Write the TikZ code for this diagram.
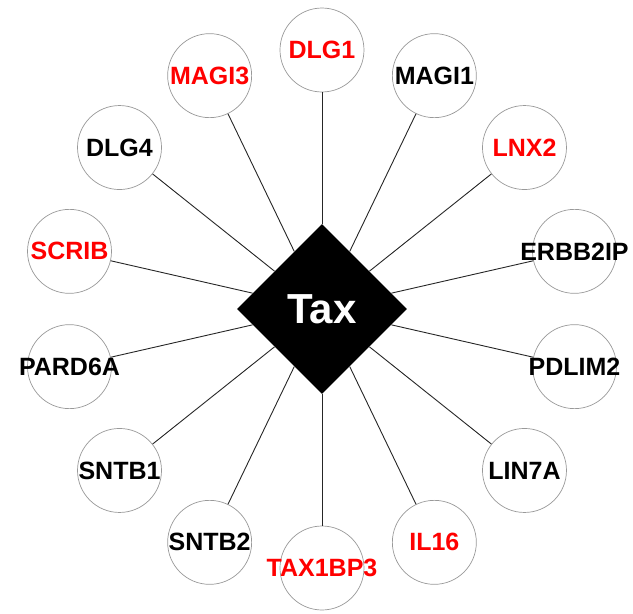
\documentclass[tikz,border=0pt]{standalone}
\usepackage{fontspec}
\setmainfont{Liberation Sans}
\usetikzlibrary{shapes.geometric}

% keep the circles the same size whatever the name's width
\newcommand{\protname}[1]{\makebox[0pt]{#1}}

\begin{document}
\begin{tikzpicture}[x=1pt, y=1pt,
		prot/.style={circle, draw=black!40, line width=0.7pt, fill=white, minimum size=84pt, inner sep=0pt, font=\bfseries\fontsize{25}{25}\selectfont},
		hit/.style={prot, text=red},
		link/.style={line width=0.9pt, black!85}]
	\useasboundingbox (-322,-305) rectangle (311,309);

	% hub
	\node [diamond, fill=black, minimum size=170pt, inner sep=0pt, text=white, font=\bfseries\fontsize{42}{42}\selectfont] (tax) at (0,0) {Tax};

	% partners, clockwise from the top
	\node [hit]  (dlg1)    at (90:259)      {\protname{DLG1}};
	\node [prot] (magi1)   at (64.29:259)   {\protname{MAGI1}};
	\node [hit]  (lnx2)    at (38.57:259)   {\protname{LNX2}};
	\node [prot] (erbb2ip) at (12.86:259)   {\protname{ERBB2IP}};
	\node [prot] (pdlim2)  at (-12.86:259)  {\protname{PDLIM2}};
	\node [prot] (lin7a)   at (-38.57:259)  {\protname{LIN7A}};
	\node [hit]  (il16)    at (-64.29:259)  {\protname{IL16}};
	\node [hit]  (tax1bp3) at (-90:259)     {\protname{TAX1BP3}};
	\node [prot] (sntb2)   at (-115.71:259) {\protname{SNTB2}};
	\node [prot] (sntb1)   at (-141.43:259) {\protname{SNTB1}};
	\node [prot] (pard6a)  at (-167.14:259) {\protname{PARD6A}};
	\node [hit]  (scrib)   at (167.14:259)  {\protname{SCRIB}};
	\node [prot] (dlg4)    at (141.43:259)  {\protname{DLG4}};
	\node [hit]  (magi3)   at (115.71:259)  {\protname{MAGI3}};

	% interactions
	\draw [link] (tax) -- (dlg1);
	\draw [link] (tax) -- (magi1);
	\draw [link] (tax) -- (lnx2);
	\draw [link] (tax) -- (erbb2ip);
	\draw [link] (tax) -- (pdlim2);
	\draw [link] (tax) -- (lin7a);
	\draw [link] (tax) -- (il16);
	\draw [link] (tax) -- (tax1bp3);
	\draw [link] (tax) -- (sntb2);
	\draw [link] (tax) -- (sntb1);
	\draw [link] (tax) -- (pard6a);
	\draw [link] (tax) -- (scrib);
	\draw [link] (tax) -- (dlg4);
	\draw [link] (tax) -- (magi3);
\end{tikzpicture}
\end{document}
